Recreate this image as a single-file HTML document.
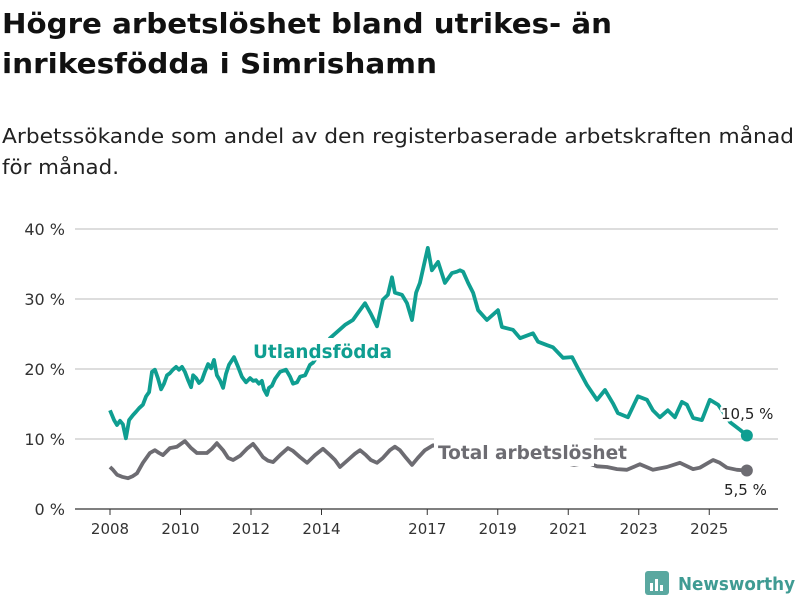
<!DOCTYPE html>
<html><head><meta charset="utf-8"><style>
body{margin:0;background:#fff;width:800px;height:600px;overflow:hidden;font-family:"Liberation Sans","DejaVu Sans",sans-serif}
</style></head><body>
<svg width="800" height="600" xmlns="http://www.w3.org/2000/svg" id="svg" font-family="'DejaVu Sans','Liberation Sans',sans-serif">
<text x="2" y="33" font-size="28" font-weight="bold" fill="#111" textLength="610" lengthAdjust="spacingAndGlyphs">Högre arbetslöshet bland utrikes- än</text>
<text x="2" y="73" font-size="28" font-weight="bold" fill="#111" textLength="435" lengthAdjust="spacingAndGlyphs">inrikesfödda i Simrishamn</text>
<text x="2" y="143" font-size="20" fill="#222" textLength="792" lengthAdjust="spacingAndGlyphs">Arbetssökande som andel av den registerbaserade arbetskraften månad</text>
<text x="2" y="174" font-size="20" fill="#222" textLength="117" lengthAdjust="spacingAndGlyphs">för månad.</text>
<g id="grid"></g><g id="lines"></g><g id="labels"></g>
<g>
<rect x="645" y="571" width="24" height="24" rx="3" fill="#5aa8a0"/>
<rect x="650" y="583" width="3" height="8" fill="#fff"/><rect x="655" y="579" width="3" height="12" fill="#fff"/><rect x="660" y="585" width="3" height="6" fill="#fff"/>
<text x="678" y="590" font-size="18" font-weight="bold" fill="#3f9b93" textLength="117" lengthAdjust="spacingAndGlyphs">Newsworthy</text>
</g>
</svg>
<script>
const yTicks=[0,10,20,30,40];
const yearTicks=[2008,2010,2012,2014,2017,2019,2021,2023,2025];
const utlMonths=[0,1.4,2.4,3.4,4.4,5.4,6.5,7.8,8.9,9.9,11.2,12.3,13.3,14.3,15.3,16.3,17.4,18.4,19.4,20.4,21.4,22.5,23.5,24.5,25.5,26.6,27.6,28.3,29.3,30.3,31.3,32.3,33.4,34.4,35.4,36.4,37.4,38.5,39.5,40.5,42.2,43.6,44.9,46.3,47.7,48.7,49.7,50.7,51.7,52.4,53.4,54.1,55.1,56.2,57.9,59.9,61.3,62.3,63.7,64.7,66.4,68.1,69.1,74.9,80,82.7,84.4,86.8,88.8,90.9,92.9,94.6,96.0,97.0,99.4,101.1,102.8,104.2,105.5,106.9,108.2,109.6,111.7,114.0,116.4,118.1,119.1,120.2,121.9,123.6,125.3,128.3,132.1,133.4,137.2,139.6,144.0,145.7,148.8,150.8,154.2,157.3,159.3,162.4,165.8,168.5,171.2,172.9,176.3,179.7,182.8,184.8,187.2,189.9,192.3,194.7,196.4,198.5,201.5,204.2,207.0,211.1,214.5,216.8];
const utlValues=[14.1,12.7,12.0,12.6,12.1,10.1,12.7,13.4,13.9,14.4,14.9,16.1,16.7,19.6,19.9,18.7,17.1,17.9,19.1,19.4,19.9,20.3,19.9,20.3,19.6,18.4,17.4,19.1,18.7,18.0,18.4,19.6,20.7,20.1,21.3,19.1,18.4,17.3,19.3,20.6,21.7,20.3,18.9,18.1,18.7,18.3,18.4,17.9,18.3,17.1,16.3,17.3,17.6,18.6,19.6,19.9,18.9,17.9,18.1,18.9,19.1,20.6,20.9,24.4,26.3,27.0,28.0,29.4,27.9,26.1,29.9,30.6,33.1,30.9,30.6,29.4,27.0,30.9,32.3,34.9,37.3,34.1,35.3,32.3,33.7,33.9,34.1,33.9,32.3,30.9,28.4,27.0,28.4,26.0,25.6,24.4,25.1,23.9,23.4,23.1,21.6,21.7,20.1,17.7,15.6,17.0,15.1,13.7,13.1,16.1,15.6,14.1,13.1,14.1,13.1,15.3,14.9,13.0,12.7,15.6,14.9,12.4,11.3,10.5];
const totMonths=[0,1,2.4,4.1,6.1,7.8,9.2,11.2,13.6,15.3,16.7,18.0,20.4,22.8,25.5,27.6,29.6,33.0,34.7,36.4,38.5,40.2,41.9,44.3,46.6,48.7,50.4,52.1,53.8,55.5,57.9,60.6,62.3,64.7,67.1,69.8,72.5,74.9,76.6,78.3,81.0,83.4,85.1,87.1,88.8,90.9,92.9,95.3,97.0,98.7,100.8,102.8,104.8,107.2,110.0,114,119,126,133,139.6,146.4,153,158,162.4,165.8,169.2,172.6,176.0,180.4,184.8,189.6,194.0,198.5,200.8,205.3,207.6,210.0,213.4,216.8];
const totValues=[6.0,5.6,4.9,4.6,4.4,4.7,5.1,6.6,8.0,8.4,8.0,7.7,8.7,8.9,9.7,8.7,8.0,8.0,8.6,9.4,8.4,7.3,7.0,7.6,8.6,9.3,8.4,7.4,6.9,6.7,7.7,8.7,8.3,7.4,6.6,7.7,8.6,7.7,7.0,6.0,7.0,7.9,8.4,7.7,7.0,6.6,7.3,8.4,8.9,8.4,7.3,6.3,7.3,8.4,9.1,8.4,8.0,7.3,7.7,7.0,7.3,6.7,6.3,6.6,6.1,6.0,5.7,5.6,6.4,5.6,6.0,6.6,5.7,5.9,7.0,6.6,5.9,5.6,5.5];
const ns="http://www.w3.org/2000/svg";
const X=m=>110+m*35.25/12, XY=y=>110+(y-2008)*35.25, Y=v=>509-v*7;
function mk(t,a,p){const e=document.createElementNS(ns,t);for(const k in a)e.setAttribute(k,a[k]);p.appendChild(e);return e;}
const grid=document.getElementById('grid'),lines=document.getElementById('lines'),labels=document.getElementById('labels');
yTicks.forEach(v=>{
 const l=mk('line',{x1:75,x2:778,y1:Y(v),y2:Y(v),stroke:v==0?'#333':'#ddd','stroke-width':v==0?1.2:2},grid);
 
 
 const t=mk('text',{x:65,y:Y(v)+6,'text-anchor':'end','font-size':16,fill:'#333'},grid);t.textContent=v+' %';
 
 
});
yearTicks.forEach(y=>{
 mk('line',{x1:XY(y),x2:XY(y),y1:509,y2:515,stroke:'#333'},grid);
 const t=mk('text',{x:XY(y),y:534,'text-anchor':'middle','font-size':15,fill:'#333'},grid);t.textContent=y;
 
 
});
function line(ms,vs,c,name){
 const d=ms.map((m,i)=>(i?'L':'M')+X(m).toFixed(1)+','+Y(vs[i]).toFixed(1)).join('');
 const p=mk('path',{d:d,fill:'none',stroke:c,'stroke-width':3.8,'stroke-linejoin':'round'},lines);
 
 
 const n=ms.length-1;
 const c2=mk('circle',{cx:X(ms[n]),cy:Y(vs[n]),r:6,fill:c},lines);
 
 
}
line(totMonths,totValues,'#6d6c72','total-line');
line(utlMonths,utlValues,'#0f9e91','utlandsfodda-line');
mk('rect',{x:318,y:338,width:76,height:26,fill:'#fff'},labels);
mk('rect',{x:434,y:438,width:160,height:28,fill:'#fff'},labels);
function lab(x,y,txt,c,fs,bold,name,tl){
 const a={x:x,y:y,'font-size':fs,'font-weight':bold?'bold':'normal',fill:c,stroke:'#fff','stroke-width':5,'paint-order':'stroke','stroke-linejoin':'round'};
 if(tl){a.textLength=tl;a.lengthAdjust='spacingAndGlyphs';}
 const t=mk('text',a,labels);
 t.textContent=txt;
 
 
}
lab(253,358,'Utlandsfödda','#0f9e91',19,true,'utlandsfodda-label',139);
lab(438,459,'Total arbetslöshet','#6d6c72',19,true,'total-label',189);
lab(721,419,'10,5 %','#222',15,false,'utl-end-value');
lab(724,495,'5,5 %','#222',15,false,'total-end-value');
</script>
</body></html>
